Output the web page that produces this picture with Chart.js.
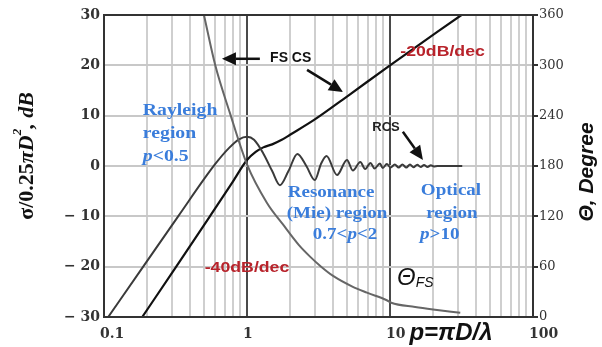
<!DOCTYPE html>
<html>
<head>
<meta charset="utf-8">
<script src="https://cdn.jsdelivr.net/npm/chart.js@4.4.1/dist/chart.umd.min.js"></script>
<style>
  html, body { margin: 0; padding: 0; background: #fff; }
  #wrap { width: 602px; height: 347px; }
</style>
</head>
<body>
<div id="wrap"><canvas id="rcsChart" width="602" height="347"></canvas></div>
<script>
// Backscatter RCS of a sphere, sigma / (0.25 pi D^2) in dB
const rcsP  = [0.107, 0.188, 0.33, 0.6, 0.75, 0.88, 1.0, 1.12, 1.3, 1.5, 1.7, 1.95, 2.25, 2.6, 2.98, 3.3, 3.6,
               4.26, 5.0, 5.5, 6.2, 6.7, 7.3, 7.8, 8.5, 8.9, 9.5, 10.1, 10.8, 11.5, 12.2, 13.0, 13.8, 14.6, 15.5,
               16.4, 17.3, 18.3, 19.3, 20.3, 21.5, 32];
const rcsDb = [-30, -20, -10, 0.4, 3.6, 5.3, 5.8, 5.2, 2.5, -1, -3.8, -1, 2.4, 0, -2.8, 0.5, 2.0,
               -1.8, 1.2, -0.9, 0.8, -0.6, 0.6, -0.5, 0.5, -0.4, 0.4, -0.3, 0.3, -0.3, 0.3, -0.3, 0.3, -0.25, 0.25,
               -0.2, 0.2, -0.2, 0.15, -0.1, 0, 0];

// Forward scattering cross-section, dB
const fsP  = [0.185, 0.32, 0.55, 0.78, 1.0, 1.15, 1.3, 1.5, 1.75, 2.0, 3.0, 5.0, 10, 31.6];
const fsDb = [-30, -20, -10, -3.5, 1.2, 2.8, 3.7, 4.3, 5.2, 6.2, 9.3, 13.8, 20, 30];

// Forward scattering lobe angle, degrees (right axis)
const thetaP   = [0.5, 0.6, 0.76, 1.0, 1.38, 1.79, 2.3, 2.76, 3.3, 4.0, 5.5, 6.9, 9.5, 10.2, 15, 20, 31];
const thetaDeg = [360, 300, 243, 182, 136, 110, 86, 72, 60, 49, 36, 29, 20, 17, 12, 9, 5];

const xLabels = [0.1, 1, 10, 100];
const dbTicks = [-30, -20, -10, 0, 10, 20, 30];
const degTicks = [0, 60, 120, 180, 240, 300, 360];

// every 1..9 line of each decade
const xGrid = [];
[0.1, 1, 10].forEach(d => {
    for (let k = 1; k < 10; k++) xGrid.push(+(d * k).toPrecision(2));
});
xGrid.push(100);

const toPts = (xs, ys) => xs.map((x, i) => ({ x: x, y: ys[i] }));

const BLUE = '#3a7ddb';
const RED = '#b8232b';
const serifB = (s) => 'bold ' + s + 'px "Liberation Serif", serif';
const serifBI = (s) => 'italic bold ' + s + 'px "Liberation Serif", serif';
const sansB = (s) => 'bold ' + s + 'px "Liberation Sans", sans-serif';
const sansBI = (s) => 'italic bold ' + s + 'px "Liberation Sans", sans-serif';

// text runs: [text, font, dy]
function drawRuns(ctx, runs, x, y, align, color, stretch) {
    ctx.save();
    ctx.fillStyle = color;
    ctx.textBaseline = 'middle';
    ctx.textAlign = 'left';
    let w = 0;
    runs.forEach(r => { ctx.font = r[1]; w += ctx.measureText(r[0]).width; });
    ctx.translate(x, y);
    ctx.scale(stretch || 1, 1);
    let cx = align === 'center' ? -w / 2 : 0;
    runs.forEach(r => {
        ctx.font = r[1];
        ctx.fillText(r[0], cx, r[2] || 0);
        cx += ctx.measureText(r[0]).width;
    });
    ctx.restore();
}

function arrow(ctx, x0, y0, x1, y1) {
    const a = Math.atan2(y1 - y0, x1 - x0);
    const len = 14, half = 6.5;
    ctx.save();
    ctx.strokeStyle = '#111';
    ctx.fillStyle = '#111';
    ctx.lineWidth = 2.5;
    ctx.beginPath();
    ctx.moveTo(x0, y0);
    ctx.lineTo(x1 - len * Math.cos(a), y1 - len * Math.sin(a));
    ctx.stroke();
    ctx.beginPath();
    ctx.moveTo(x1, y1);
    ctx.lineTo(x1 - len * Math.cos(a) - half * Math.sin(a), y1 - len * Math.sin(a) + half * Math.cos(a));
    ctx.lineTo(x1 - len * Math.cos(a) + half * Math.sin(a), y1 - len * Math.sin(a) - half * Math.cos(a));
    ctx.closePath();
    ctx.fill();
    ctx.restore();
}

// frame around the plot area
const framePlugin = {
    id: 'frame',
    afterDatasetsDraw(chart) {
        const { ctx, chartArea: a } = chart;
        ctx.save();
        ctx.strokeStyle = '#333';
        ctx.lineWidth = 2;
        ctx.strokeRect(a.left, a.top, a.right - a.left, a.bottom - a.top);
        ctx.restore();
    }
};

// region labels, arrows and axis titles
const notesPlugin = {
    id: 'notes',
    afterDraw(chart) {
        const ctx = chart.ctx;
        const sx = chart.scales.x, sy = chart.scales.y;
        const P = (p, db) => [sx.getPixelForValue(p), sy.getPixelForValue(db)];
        const put = (runs, p, db, align, color, stretch) => {
            const [x, y] = P(p, db);
            drawRuns(ctx, runs, x, y, align, color, stretch);
        };

        put([['Rayleigh', serifB(17)]], 0.187, 11.1, 'left', BLUE, 1.16);
        put([['region', serifB(17)]], 0.187, 6.5, 'left', BLUE, 1.16);
        put([['p', serifBI(17)], ['<0.5', serifB(17)]], 0.187, 1.8, 'left', BLUE, 1.16);

        put([['Resonance', serifB(17)]], 3.87, -5.2, 'center', BLUE, 1.12);
        put([['(Mie) region', serifB(17)]], 4.26, -9.4, 'center', BLUE, 1.12);
        put([['0.7<', serifB(17)], ['p', serifBI(17)], ['<2', serifB(17)]], 4.85, -13.7, 'center', BLUE, 1.12);

        put([['Optical', serifB(17)]], 26.7, -4.8, 'center', BLUE, 1.12);
        put([['region', serifB(17)]], 27.1, -9.4, 'center', BLUE, 1.12);
        put([['p', serifBI(17)], ['>10', serifB(17)]], 22.3, -13.7, 'center', BLUE, 1.12);

        put([['-40dB/dec', sansB(15)]], 1.0, -20.3, 'center', RED, 1.18);
        put([['-20dB/dec', sansB(15)]], 11.8, 22.7, 'left', RED, 1.18);

        put([['FS CS', sansB(14)]], 1.45, 21.5, 'left', '#111', 1);
        put([['RCS', sansB(13)]], 9.38, 7.6, 'center', '#222', 1);
        put([['\u0398', 'italic 24px "Liberation Sans", sans-serif'], ['FS', 'italic 14px "Liberation Sans", sans-serif', 5]],
            11.2, -22.3, 'left', '#111', 1);

        let a = P(1.23, 21.3), b = P(0.668, 21.3);
        arrow(ctx, a[0], a[1], b[0], b[1]);
        a = P(2.63, 19.1); b = P(4.69, 14.7);
        arrow(ctx, a[0], a[1], b[0], b[1]);
        a = P(12.3, 6.8); b = P(17.0, 1.2);
        arrow(ctx, a[0], a[1], b[0], b[1]);

        // left axis title
        ctx.save();
        ctx.translate(27, 156);
        ctx.rotate(-Math.PI / 2);
        drawRuns(ctx, [['\u03c3/0.25', serifB(22)], ['\u03c0D', serifBI(22)], ['2', serifBI(13), -9], [', dB', serifBI(22)]],
            0, 0, 'center', '#111', 1);
        ctx.restore();

        // right axis title
        ctx.save();
        ctx.translate(587, 172);
        ctx.rotate(-Math.PI / 2);
        drawRuns(ctx, [['\u0398, Degree', sansBI(21)]], 0, 0, 'center', '#111', 1);
        ctx.restore();

        // x axis title
        drawRuns(ctx, [['p=\u03c0D/\u03bb', sansBI(24)]], 451, 333, 'center', '#111', 1);
    }
};

new Chart(document.getElementById('rcsChart'), {
    type: 'line',
    data: {
        datasets: [
            { label: '\u0398FS', data: toPts(thetaP, thetaDeg), yAxisID: 'y2', borderColor: '#666', borderWidth: 2 },
            { label: 'RCS', data: toPts(rcsP, rcsDb), yAxisID: 'y', borderColor: '#3a3a3a', borderWidth: 2 },
            { label: 'FS CS', data: toPts(fsP, fsDb), yAxisID: 'y', borderColor: '#111', borderWidth: 2.2 }
        ]
    },
    options: {
        responsive: false,
        animation: false,
        devicePixelRatio: 1,
        layout: { padding: { top: 15, left: 0, right: 0, bottom: 0 } },
        elements: {
            point: { radius: 0 },
            line: { cubicInterpolationMode: 'monotone' }
        },
        plugins: { legend: { display: false }, tooltip: { enabled: false } },
        scales: {
            x: {
                type: 'logarithmic',
                min: 0.1,
                max: 100,
                afterBuildTicks: s => { s.ticks = xGrid.map(v => ({ value: v })); },
                afterFit: s => { s.height = 30; },
                ticks: {
                    autoSkip: false,
                    maxRotation: 0,
                    align: 'start',
                    labelOffset: -4,
                    padding: 9,
                    color: '#333',
                    font: { family: '"DejaVu Serif", serif', weight: 'bold', size: 14 },
                    callback: v => xLabels.includes(v) ? String(v) : ''
                },
                grid: {
                    drawTicks: false,
                    color: c => (c.tick && (c.tick.value === 1 || c.tick.value === 10)) ? '#4a4a4a' : '#cfcfcf',
                    lineWidth: 2
                },
                border: { display: false }
            },
            y: {
                position: 'left',
                min: -30,
                max: 30,
                afterBuildTicks: s => { s.ticks = dbTicks.map(v => ({ value: v })); },
                afterFit: s => { s.width = 104; },
                ticks: {
                    padding: 4,
                    color: '#333',
                    font: { family: '"DejaVu Serif", serif', weight: 'bold', size: 14 },
                    callback: v => v < 0 ? '\u2212 ' + (-v) : String(v)
                },
                grid: { drawTicks: false, color: '#c8c8c8', lineWidth: 2 },
                border: { display: false }
            },
            y2: {
                position: 'right',
                min: 0,
                max: 360,
                afterBuildTicks: s => { s.ticks = degTicks.map(v => ({ value: v })); },
                afterFit: s => { s.width = 69; },
                ticks: {
                    padding: 1,
                    color: '#333',
                    font: { family: '"DejaVu Serif", serif', size: 13 },
                    callback: v => String(v)
                },
                grid: { drawOnChartArea: false, drawTicks: true, tickLength: 5, color: '#333', lineWidth: 2 },
                border: { display: false }
            }
        }
    },
    plugins: [framePlugin, notesPlugin]
});
</script>
</body>
</html>
